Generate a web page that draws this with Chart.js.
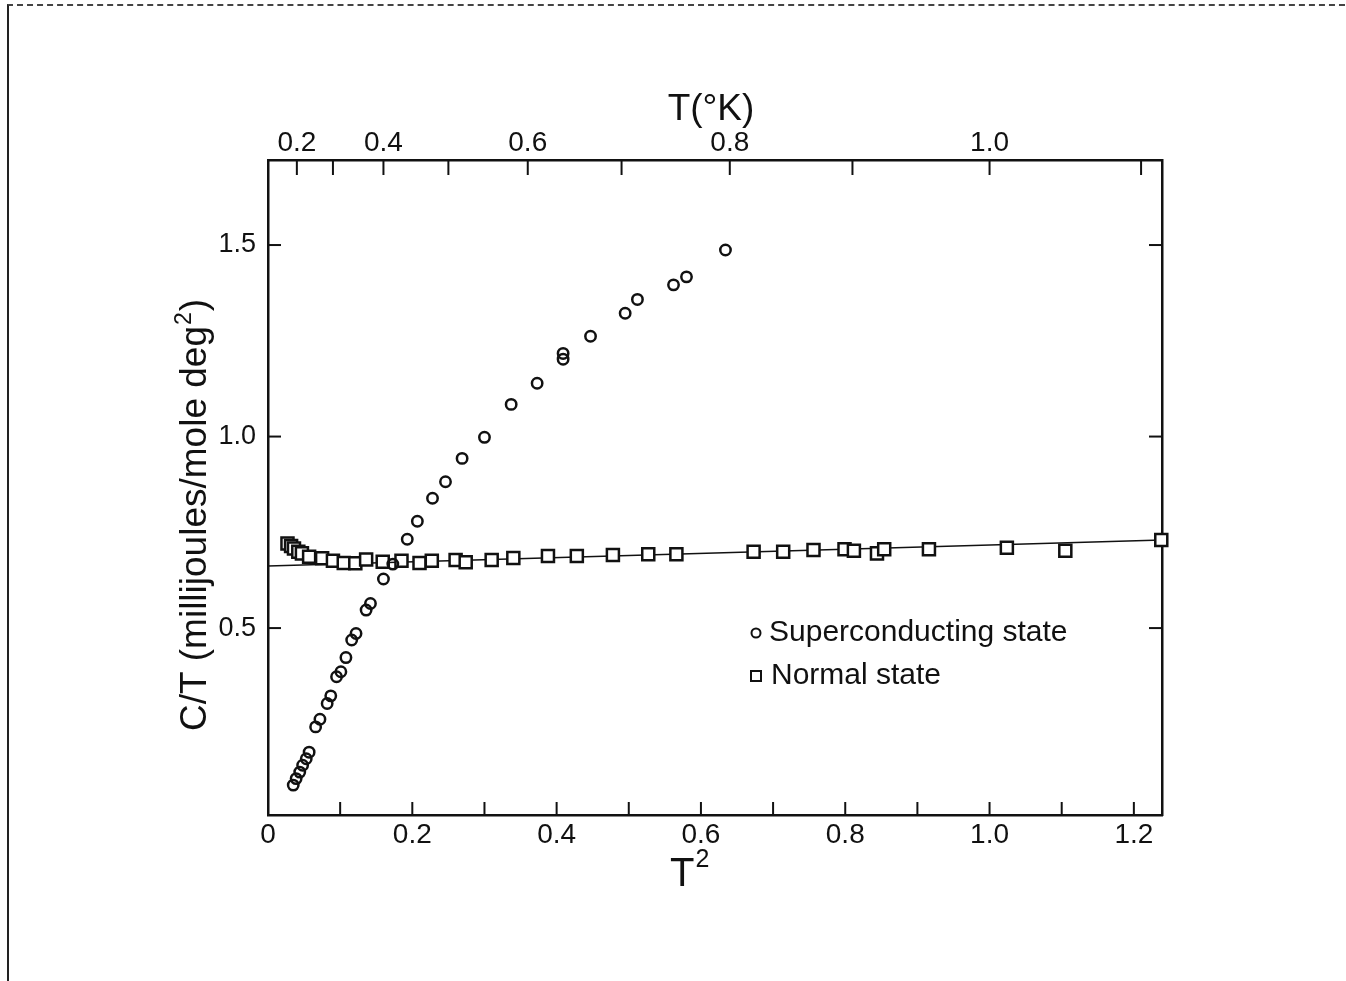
<!DOCTYPE html>
<html>
<head>
<meta charset="utf-8">
<title>C/T vs T²</title>
<script src="https://cdn.jsdelivr.net/npm/chart.js@4.4.1/dist/chart.umd.min.js"></script>
<style>
    html, body { margin: 0; padding: 0; background: #fff; }
    #marco {
        position: relative;
        width: 1346px;
        height: 981px;
        overflow: hidden;
    }
    #borde {
        position: absolute;
        left: 7px;
        top: 4px;
        width: 1346px;
        height: 990px;
        border-left: 2px solid #222;
        border-top: 2px dashed #444;
    }
    canvas { position: absolute; left: 0; top: 0; }
</style>
</head>
<body>
<div id="marco">
    <div id="borde"></div>
    <canvas id="grafico" width="1346" height="981"></canvas>
</div>
<script>
// Superconducting state (T², C/T)
const superT2 = [0.035, 0.039, 0.044, 0.048, 0.053, 0.057, 0.066, 0.072, 0.082, 0.087,
    0.095, 0.101, 0.108, 0.116, 0.122, 0.136, 0.142, 0.160, 0.173, 0.193,
    0.207, 0.228, 0.246, 0.269, 0.300, 0.337, 0.373, 0.409, 0.409, 0.447,
    0.495, 0.512, 0.562, 0.580, 0.634];
const superCT = [0.090, 0.107, 0.124, 0.142, 0.159, 0.176, 0.242, 0.262, 0.303, 0.323,
    0.373, 0.386, 0.423, 0.469, 0.486, 0.547, 0.564, 0.628, 0.667, 0.732,
    0.779, 0.839, 0.882, 0.943, 0.998, 1.084, 1.139, 1.202, 1.217, 1.262,
    1.322, 1.358, 1.396, 1.417, 1.487];

// Normal state (T², C/T)
const normalT2 = [0.027, 0.032, 0.036, 0.042, 0.047, 0.057, 0.075, 0.090, 0.105, 0.121,
    0.136, 0.159, 0.185, 0.210, 0.227, 0.260, 0.274, 0.310, 0.340, 0.388,
    0.428, 0.478, 0.527, 0.566, 0.673, 0.714, 0.756, 0.799, 0.812, 0.844,
    0.854, 0.916, 1.024, 1.105, 1.238];
const normalCT = [0.721, 0.714, 0.708, 0.699, 0.695, 0.686, 0.682, 0.676, 0.670, 0.669,
    0.679, 0.673, 0.676, 0.670, 0.676, 0.678, 0.672, 0.678, 0.683, 0.688,
    0.688, 0.691, 0.693, 0.693, 0.699, 0.699, 0.704, 0.706, 0.702, 0.695,
    0.706, 0.706, 0.710, 0.702, 0.730];

// Straight line through the normal state
const rectaT2 = [0, 1.24];
const rectaCT = [0.662, 0.730];

// Ticks
const xTicks = [0, 0.1, 0.2, 0.3, 0.4, 0.5, 0.6, 0.7, 0.8, 0.9, 1.0, 1.1, 1.2];
const xTickLabels = ['0', '', '0.2', '', '0.4', '', '0.6', '', '0.8', '', '1.0', '', '1.2'];
const tTicks = [0.2, 0.3, 0.4, 0.5, 0.6, 0.7, 0.8, 0.9, 1.0, 1.1];
const tTickLabels = ['0.2', '', '0.4', '', '0.6', '', '0.8', '', '1.0', ''];
const yTicks = [0.5, 1.0, 1.5];
const yTickLabels = ['0.5', '1.0', '1.5'];

document.addEventListener('DOMContentLoaded', function() {
    const fuente = "'Liberation Sans', Arial, sans-serif";
    const tinta = '#111';
    Chart.defaults.font.family = fuente;
    Chart.defaults.color = tinta;

    const xMin = 0, xMax = 1.239;
    const yMin = 0.012, yMax = 1.722;

    function puntos(xs, ys) {
        return xs.map((x, i) => ({ x: x, y: ys[i] }));
    }

    // Inward tick marks on all four sides
    const marcasPlugin = {
        id: 'marcas',
        afterDraw(chart) {
            const ctx = chart.ctx;
            const area = chart.chartArea;
            ctx.save();
            ctx.strokeStyle = tinta;
            ctx.lineWidth = 2;
            dibujarMarcas(chart.scales.x, 'bottom', 13);
            dibujarMarcas(chart.scales.xTop, 'top', 15);
            dibujarMarcas(chart.scales.y, 'left', 13);
            dibujarMarcas(chart.scales.yRight, 'right', 13);
            ctx.restore();

            function dibujarMarcas(scale, lado, largo) {
                scale.ticks.forEach(t => {
                    const p = scale.getPixelForValue(t.value);
                    ctx.beginPath();
                    if (lado === 'bottom' || lado === 'top') {
                        if (p <= area.left + 1 || p >= area.right - 1) return;
                        const y0 = lado === 'bottom' ? area.bottom : area.top;
                        const y1 = lado === 'bottom' ? y0 - largo : y0 + largo;
                        ctx.moveTo(p, y0);
                        ctx.lineTo(p, y1);
                    } else {
                        const x0 = lado === 'left' ? area.left : area.right;
                        const x1 = lado === 'left' ? x0 + largo : x0 - largo;
                        ctx.moveTo(x0, p);
                        ctx.lineTo(x1, p);
                    }
                    ctx.stroke();
                });
            }
        }
    };

    // Axis titles, with real superscripts
    const titulosPlugin = {
        id: 'titulos',
        afterDraw(chart) {
            const ctx = chart.ctx;
            const area = chart.chartArea;
            ctx.save();
            ctx.fillStyle = tinta;
            ctx.textBaseline = 'alphabetic';
            ctx.textAlign = 'left';

            // top: T(°K)
            ctx.font = '37px ' + fuente;
            const arriba = 'T(°K)';
            ctx.fillText(arriba, area.left + 443 - ctx.measureText(arriba).width / 2, 120);

            // bottom: T²
            ctx.font = '40px ' + fuente;
            const wT = ctx.measureText('T').width;
            const xT = area.left + 402;
            ctx.fillText('T', xT, 886);
            ctx.font = '25px ' + fuente;
            ctx.fillText('2', xT + wT + 1, 867);

            // left: C/T (millijoules/mole deg²)
            ctx.translate(206, area.top + 355);
            ctx.rotate(-Math.PI / 2);
            const parte1 = 'C/T (millijoules/mole deg';
            const parte3 = ')';
            ctx.font = '37px ' + fuente;
            const w1 = ctx.measureText(parte1).width;
            const w3 = ctx.measureText(parte3).width;
            ctx.font = '23px ' + fuente;
            const w2 = ctx.measureText('2').width;
            const inicio = -(w1 + w2 + w3 + 2) / 2;
            ctx.font = '37px ' + fuente;
            ctx.fillText(parte1, inicio, 0);
            ctx.font = '23px ' + fuente;
            ctx.fillText('2', inicio + w1 + 1, -15);
            ctx.font = '37px ' + fuente;
            ctx.fillText(parte3, inicio + w1 + w2 + 2, 0);
            ctx.restore();
        }
    };

    // Legend inside the plot
    const leyendaPlugin = {
        id: 'leyenda',
        afterDraw(chart) {
            const ctx = chart.ctx;
            const area = chart.chartArea;
            const x = area.left + 488;
            const y1 = area.top + 473;
            const y2 = area.top + 516;
            ctx.save();
            ctx.strokeStyle = tinta;
            ctx.fillStyle = tinta;
            ctx.lineWidth = 2;
            ctx.beginPath();
            ctx.arc(x, y1, 4.5, 0, Math.PI * 2);
            ctx.stroke();
            ctx.strokeRect(x - 5, y2 - 5, 10, 10);
            ctx.font = '30px ' + fuente;
            ctx.textBaseline = 'middle';
            ctx.textAlign = 'left';
            ctx.fillText('Superconducting state', x + 13, y1);
            ctx.fillText('Normal state', x + 15, y2);
            ctx.restore();
        }
    };

    const borde = { display: true, color: tinta, width: 2.5 };

    new Chart(document.getElementById('grafico'), {
        type: 'scatter',
        data: {
            datasets: [
                {
                    label: 'Superconducting state',
                    data: puntos(superT2, superCT),
                    pointStyle: 'circle',
                    pointRadius: 5.2,
                    pointBorderWidth: 2.5,
                    pointBorderColor: tinta,
                    pointBackgroundColor: 'rgba(255,255,255,0)',
                    showLine: false,
                    clip: false
                },
                {
                    label: 'Normal state',
                    data: puntos(normalT2, normalCT),
                    pointStyle: 'rect',
                    pointRadius: 8.5,
                    pointBorderWidth: 2.5,
                    pointBorderColor: tinta,
                    pointBackgroundColor: '#fff',
                    showLine: false,
                    clip: false
                },
                {
                    label: 'fit',
                    data: puntos(rectaT2, rectaCT),
                    showLine: true,
                    borderColor: tinta,
                    borderWidth: 1.5,
                    pointRadius: 0,
                    order: 5,
                    clip: true
                }
            ]
        },
        options: {
            responsive: false,
            animation: false,
            layout: { padding: 0 },
            plugins: {
                legend: { display: false },
                tooltip: { enabled: false }
            },
            scales: {
                x: {
                    type: 'linear',
                    position: 'bottom',
                    min: xMin,
                    max: xMax,
                    grid: { display: false, drawTicks: false },
                    border: borde,
                    afterBuildTicks: scale => { scale.ticks = xTicks.map(v => ({ value: v })); },
                    afterFit: scale => { scale.height = 166; },
                    ticks: {
                        autoSkip: false,
                        maxRotation: 0,
                        padding: 3,
                        font: { size: 28 },
                        callback: (value, index) => xTickLabels[index]
                    }
                },
                xTop: {
                    type: 'linear',
                    position: 'top',
                    min: xMin,
                    max: xMax,
                    grid: { display: false, drawTicks: false },
                    border: borde,
                    afterBuildTicks: scale => { scale.ticks = tTicks.map(t => ({ value: t * t })); },
                    afterFit: scale => { scale.height = 160; },
                    ticks: {
                        autoSkip: false,
                        maxRotation: 0,
                        padding: 0,
                        font: { size: 28 },
                        callback: (value, index) => tTickLabels[index]
                    }
                },
                y: {
                    type: 'linear',
                    position: 'left',
                    min: yMin,
                    max: yMax,
                    grid: { display: false, drawTicks: false },
                    border: borde,
                    afterBuildTicks: scale => { scale.ticks = yTicks.map(v => ({ value: v })); },
                    afterFit: scale => { scale.width = 268; },
                    ticks: {
                        padding: 12,
                        font: { size: 27 },
                        callback: (value, index) => yTickLabels[index]
                    }
                },
                yRight: {
                    type: 'linear',
                    position: 'right',
                    min: yMin,
                    max: yMax,
                    grid: { display: false, drawTicks: false },
                    border: borde,
                    afterBuildTicks: scale => { scale.ticks = yTicks.map(v => ({ value: v })); },
                    afterFit: scale => { scale.width = 184; },
                    ticks: { display: false }
                }
            }
        },
        plugins: [marcasPlugin, titulosPlugin, leyendaPlugin]
    });
});
</script>
</body>
</html>
